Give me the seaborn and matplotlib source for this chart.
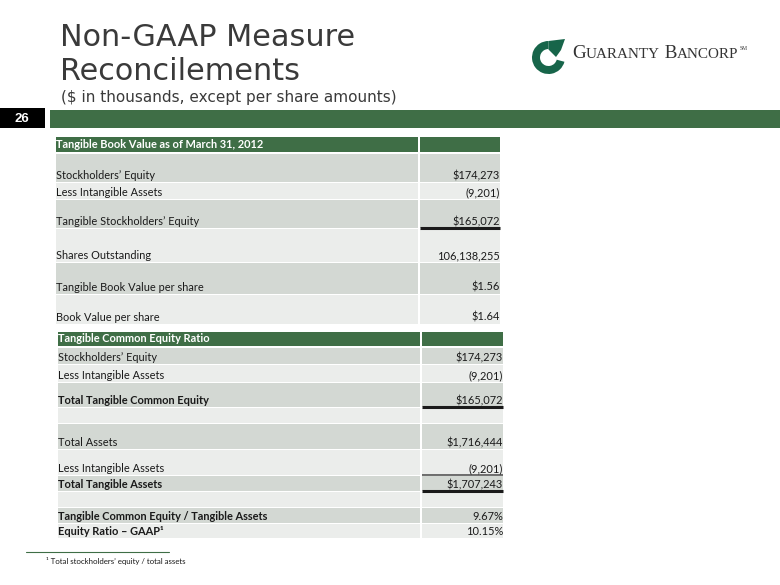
import matplotlib
matplotlib.use("Agg")
import matplotlib.pyplot as plt
from matplotlib.patches import Rectangle, Wedge, Polygon
import seaborn as sns

# ---------------- data ----------------
t1_title = "Tangible Book Value as of March 31, 2012"
t1_labels = ["Stockholders’ Equity", "Less Intangible Assets", "Tangible Stockholders’ Equity",
             "Shares Outstanding", "Tangible Book Value per share", "Book Value per share"]
t1_values = [174273, -9201, 165072, 106138255, 1.56, 1.64]
t1_kinds = ["usd", "neg", "usd", "int", "usd2", "usd2"]
t1_bold = [False] * 6

t2_title = "Tangible Common Equity Ratio"
t2_labels = ["Stockholders’ Equity", "Less Intangible Assets", "Total Tangible Common Equity", "",
             "Total Assets", "Less Intangible Assets", "Total Tangible Assets", "",
             "Tangible Common Equity / Tangible Assets", "Equity Ratio – GAAP¹"]
t2_values = [174273, -9201, 165072, None, 1716444, -9201, 1707243, None, 9.67, 10.15]
t2_kinds = ["usd", "neg", "usd", "", "usd", "neg", "usd", "", "pct", "pct"]
t2_bold = [False, False, True, False, False, False, True, False, True, True]

title_lines = ["Non-GAAP Measure", "Reconcilements"]
subtitle = "($ in thousands, except per share amounts)"
page_no = "26"
footnote = "¹ Total stockholders’ equity / total assets"
logo_words = ["Guaranty", "Bancorp"]

# ---------------- layout (pixels) ----------------
t1_rows = [154, 183, 200, 229, 263, 295, 325]       # row edges
t1_header = (137, 152)
t1_cols = (56, 418, 500)
t1_lines = {2: ("k", 2.2)}
t2_rows = [348, 365, 383, 408, 424, 450, 476, 492, 508, 524, 539]
t2_header = (332, 346)
t2_cols = (58, 420, 503)
t2_lines = {2: ("k", 2.2), 5: ("#555555", 1.2), 6: ("k", 2.2)}

GREEN = "#3f6e46"
DARK = "#d3d8d3"
LIGHT = "#ebedeb"
TXT = "#1a1a1a"
FS = 7.9

sns.set_theme(style="white")
plt.rcParams["font.family"] = ["Lato", "DejaVu Sans"]

fig = plt.figure(figsize=(7.8, 5.85), dpi=100)
ax = fig.add_axes([0, 0, 1, 1])
ax.set_xlim(0, 780)
ax.set_ylim(585, 0)
ax.axis("off")


def fmt(v, kind):
    if v is None:
        return ""
    if kind == "usd":
        return f"${v:,.0f}"
    if kind == "neg":
        return f"({abs(v):,.0f})"
    if kind == "int":
        return f"{v:,.0f}"
    if kind == "usd2":
        return f"${v:.2f}"
    if kind == "pct":
        return f"{v:.2f}%"
    return str(v)


def draw_table(title, labels, values, kinds, bold, rows, header, cols, lines):
    x0, xm, x1 = cols
    # header
    ax.add_patch(Rectangle((x0, header[0]), xm - x0, header[1] - header[0], color=GREEN, lw=0))
    ax.add_patch(Rectangle((xm + 1.5, header[0]), x1 - xm - 1.5, header[1] - header[0], color=GREEN, lw=0))
    ax.text(x0 + 0.5, header[1] - 3.5, title, color="white", fontsize=FS, fontweight="bold",
            ha="left", va="baseline")
    for i, lab in enumerate(labels):
        top, bot = rows[i], rows[i + 1] - 1
        c = DARK if i % 2 == 0 else LIGHT
        ax.add_patch(Rectangle((x0, top), xm - x0, bot - top, color=c, lw=0))
        ax.add_patch(Rectangle((xm + 1.5, top), x1 - xm - 1.5, bot - top, color=c, lw=0))
        w = "bold" if bold[i] else "normal"
        ax.text(x0 + 0.5, bot - 3, lab, color=TXT, fontsize=FS, fontweight=w, ha="left", va="baseline")
        ax.text(x1, bot - 3, fmt(values[i], kinds[i]), color=TXT, fontsize=FS, ha="right", va="baseline")
        if i in lines:
            col, lw = lines[i]
            ax.plot([xm + 1.5, x1], [bot, bot], color=col, lw=lw, solid_capstyle="butt")


draw_table(t1_title, t1_labels, t1_values, t1_kinds, t1_bold, t1_rows, t1_header, t1_cols, t1_lines)
draw_table(t2_title, t2_labels, t2_values, t2_kinds, t2_bold, t2_rows, t2_header, t2_cols, t2_lines)

# title
ax.text(60, 45.5, title_lines[0], fontsize=21.8, color="#3a3a3a", family="DejaVu Sans", va="baseline")
ax.text(60, 79.5, title_lines[1], fontsize=21.8, color="#3a3a3a", family="DejaVu Sans", va="baseline")
ax.text(61, 102.3, subtitle, fontsize=11, color="#3a3a3a", family="DejaVu Sans", va="baseline")

# bar + page number
ax.add_patch(Rectangle((0, 108), 45, 20, color="black", lw=0))
ax.add_patch(Rectangle((50, 110), 730, 18, color=GREEN, lw=0))
ax.text(22, 118.5, page_no, color="white", fontsize=9.5, fontweight="bold",
        family="Liberation Sans", ha="center", va="center")

# logo
LG = "#17654a"
ax.add_patch(Wedge((548.5, 57.5), 16.5, 15, 270, width=8, color=LG, lw=0))
ax.add_patch(Polygon([[548.5, 41], [565, 39], [561, 50], [556, 57], [548.5, 49.5]],
                     closed=True, color=LG, lw=0))
x = 572
fig.canvas.draw()
rend = fig.canvas.get_renderer()
pieces = []
for k, wd in enumerate(logo_words):
    pieces.append(((" " if k else "") + wd[0].upper(), 13.8))
    pieces.append((wd[1:].upper(), 10.9))
for s, fs in pieces:
    t = ax.text(x, 58, s, fontsize=fs, family="Liberation Serif", color="#333333", va="baseline")
    bb = t.get_window_extent(renderer=rend)
    x += bb.width
ax.text(x + 0.5, 50, "SM", fontsize=4, family="Liberation Serif", color="#333333", va="baseline")

# footnote
ax.plot([26, 169], [552, 552], color=GREEN, lw=0.8)
ax.text(46, 564, footnote, fontsize=5.7, color=TXT, va="baseline")

fig.savefig("out.png", dpi=100, facecolor="white")
